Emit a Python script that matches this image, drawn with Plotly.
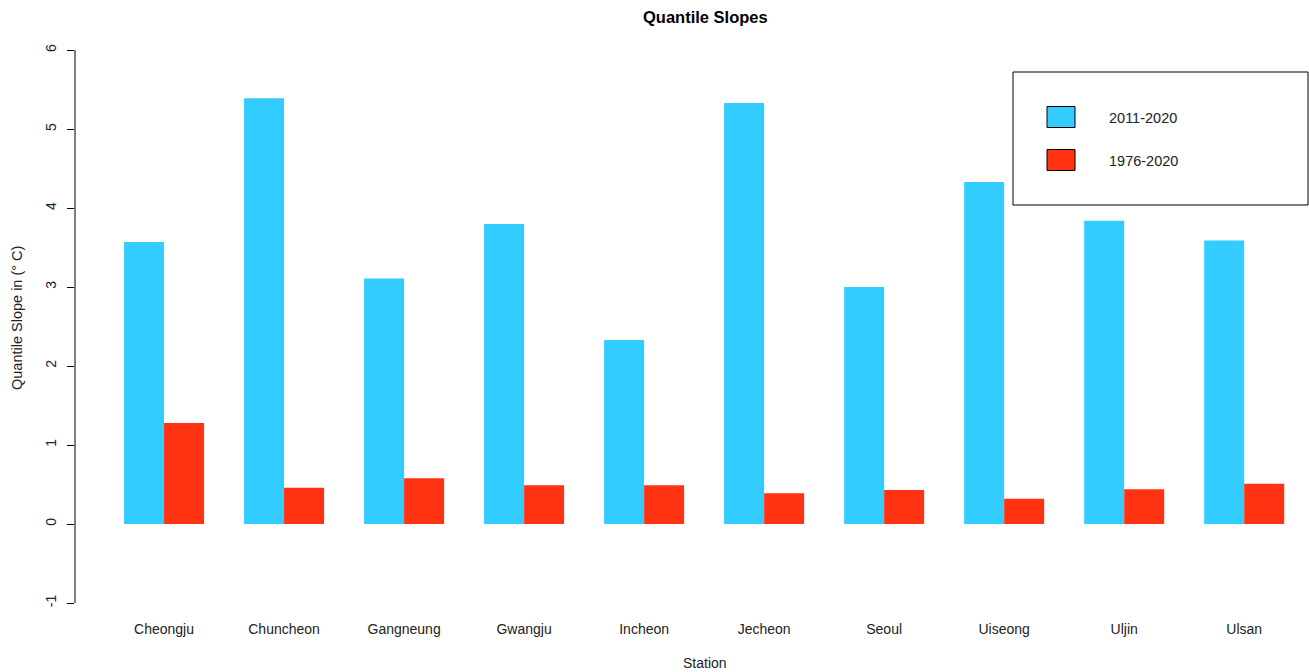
import plotly.graph_objects as go

stations = ["Cheongju", "Chuncheon", "Gangneung", "Gwangju", "Incheon",
            "Jecheon", "Seoul", "Uiseong", "Uljin", "Ulsan"]
slope_2011_2020 = [3.57, 5.39, 3.11, 3.80, 2.33, 5.33, 3.00, 4.33, 3.84, 3.59]
slope_1976_2020 = [1.28, 0.46, 0.58, 0.49, 0.49, 0.39, 0.43, 0.32, 0.44, 0.51]
series_names = ["2011-2020", "1976-2020"]
series_colors = ["#33CCFF", "#FF3311"]
y_ticks = [-1, 0, 1, 2, 3, 4, 5, 6]

FONT = "Liberation Sans, Arial, sans-serif"

fig = go.Figure()
for name, vals, col in zip(series_names, [slope_2011_2020, slope_1976_2020], series_colors):
    fig.add_trace(go.Bar(x=stations, y=vals, name=name,
                         marker=dict(color=col, line=dict(width=0)),
                         showlegend=False))

shapes = [
    # y axis line spanning the tick range
    dict(type="line", xref="paper", yref="y", x0=0, x1=0,
         y0=y_ticks[0], y1=y_ticks[-1], line=dict(color="black", width=1)),
    # legend frame
    dict(type="rect", xref="paper", yref="paper",
         x0=(1013 - 75) / 1234, x1=(1308 - 75) / 1234,
         y0=1 - (205 - 28) / 575, y1=1 - (72 - 28) / 575,
         line=dict(color="black", width=1), fillcolor="rgba(0,0,0,0)"),
]
annotations = [
    dict(text="<b>Quantile Slopes</b>", xref="paper", yref="paper",
         x=(705 - 75) / 1234, y=1 - (17 - 28) / 575, showarrow=False,
         font=dict(size=16.5, family=FONT, color="black"),
         xanchor="center", yanchor="middle"),
    dict(text="Station", xref="paper", yref="paper",
         x=(705 - 75) / 1234, y=1 - (663 - 28) / 575, showarrow=False,
         font=dict(size=14, family=FONT, color="#222"),
         xanchor="center", yanchor="middle"),
    dict(text="Quantile Slope in (° C)", xref="paper", yref="paper",
         x=(17 - 75) / 1234, y=1 - (318 - 28) / 575, showarrow=False,
         textangle=-90, font=dict(size=14.5, family=FONT, color="#222"),
         xanchor="center", yanchor="middle"),
]
# legend entries
for i, (name, col) in enumerate(zip(series_names, series_colors)):
    cy = 117 + 43 * i
    shapes.append(dict(type="rect", xref="paper", yref="paper",
                       x0=(1047 - 75) / 1234, x1=(1075 - 75) / 1234,
                       y0=1 - (cy + 10.5 - 28) / 575, y1=1 - (cy - 10.5 - 28) / 575,
                       line=dict(color="black", width=1), fillcolor=col))
    annotations.append(dict(text=name, xref="paper", yref="paper",
                            x=(1107 - 75) / 1234, y=1 - (cy + 1 - 28) / 575,
                            showarrow=False, xanchor="left", yanchor="middle",
                            font=dict(size=14.5, family=FONT, color="#222")))

fig.update_layout(
    width=1309, height=672,
    margin=dict(l=75, r=0, t=28, b=69),
    paper_bgcolor="white", plot_bgcolor="white",
    barmode="group", bargap=1 / 3, bargroupgap=0,
    font=dict(family=FONT, size=14, color="#222"),
    xaxis=dict(range=[-0.742, 9.54], showgrid=False, zeroline=False,
               showline=False, ticks="", tickfont=dict(size=14),
               ticklabelstandoff=16),
    yaxis=dict(range=[-1, 6.28], tickvals=y_ticks,
               ticktext=[str(v) for v in y_ticks], showgrid=False,
               zeroline=False, showline=False, ticks="outside", ticklen=7,
               tickcolor="black", tickangle=-90, tickfont=dict(size=14),
               ticklabelstandoff=5),
    shapes=shapes, annotations=annotations,
)

fig.write_html("out.html")
